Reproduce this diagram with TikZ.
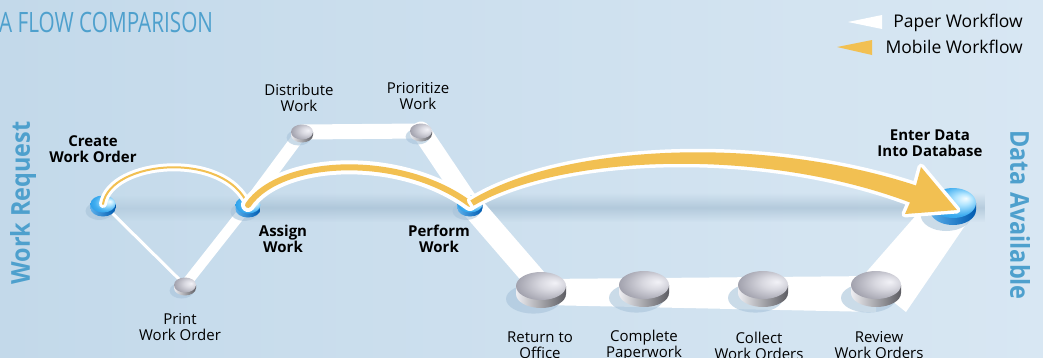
\documentclass[tikz,border=0pt]{standalone}
\usepackage{fontspec}
\setmainfont{Open Sans}
\usetikzlibrary{fadings,calc}
\definecolor{bgL}{RGB}{195,217,234}
\definecolor{bgR}{RGB}{216,231,243}
\definecolor{ttl}{RGB}{78,160,205}
\definecolor{mob}{RGB}{242,192,82}
\definecolor{bandc}{RGB}{150,178,200}
\definecolor{shad}{RGB}{168,195,218}
\definecolor{blueL}{RGB}{90,175,235}
\definecolor{blueR}{RGB}{0,90,175}
\definecolor{grayL}{RGB}{238,238,242}
\definecolor{grayR}{RGB}{92,92,98}
\pgfdeclareradialshading{bluetop}{\pgfpoint{14bp}{8bp}}{rgb(0bp)=(0.96,0.99,1); rgb(9bp)=(0.7,0.9,1); rgb(24bp)=(0.25,0.68,0.94); rgb(50bp)=(0.02,0.5,0.85)}
\pgfdeclareradialshading{graytop}{\pgfpoint{14bp}{6bp}}{rgb(0bp)=(0.95,0.95,0.97); rgb(12bp)=(0.85,0.85,0.88); rgb(36bp)=(0.58,0.58,0.63); rgb(55bp)=(0.45,0.45,0.5)}
\tikzfading[name=bandfade, top color=transparent!100, bottom color=transparent!100, middle color=transparent!0]
\newcommand\mkdisc[5]{%
  \begin{scope}[shift={(#1)}]
    \fill[shad, opacity=0.6] (-0.3*#2, #4+0.35*#3) ellipse[x radius=1.1*#2, y radius=1.05*#3];
    \path[left color=#5L, right color=#5R] (-#2,0) -- (-#2,#4) arc[start angle=180, end angle=0, x radius=#2, y radius=#3] -- (#2,0) -- cycle;
    \path[shading=#5top] (0,0) ellipse[x radius=#2, y radius=#3];
  \end{scope}}
\begin{document}
\begin{tikzpicture}[x=1pt,y=-1pt,
  paper/.style={draw=white, line cap=round, line join=round},
  lbl/.style={font=\fontsize{15}{16}\selectfont, align=center, inner sep=0pt, text=black},
  blbl/.style={font=\bfseries\fontsize{15}{16}\selectfont, align=center, inner sep=0pt, text=black},
  sidelbl/.style={font=\bfseries\fontsize{26}{28}\selectfont, text=ttl, inner sep=0pt},
  legend/.style={font=\fontsize{17.5}{18}\selectfont, inner sep=0pt, anchor=base east}]
\useasboundingbox (0,0) rectangle (1043,357);
\clip (0,0) rectangle (1043,357);
\fill[left color=bgL, right color=bgR] (0,0) rectangle (1043,357);
\fill[bandc, path fading=bandfade, opacity=0.3] (95,195) rectangle (250,221);
\fill[bandc, path fading=bandfade, opacity=0.5] (250,193) rectangle (985,222);
% coordinates of the discs
\coordinate (cwo) at (103,204);
\coordinate (asg) at (248,205);
\coordinate (pwo) at (185,285);
\coordinate (dst) at (302,132);
\coordinate (pri) at (421,131);
\coordinate (perf) at (470,204);
\coordinate (ret) at (541,286);
\coordinate (cmp) at (644,285);
\coordinate (col) at (763,285);
\coordinate (rev) at (876,285);
\coordinate (ent) at (953,203);
% paper workflow
\draw[paper, line width=3] (cwo) -- (pwo);
\draw[paper, line width=10] (pwo) -- (asg);
\draw[paper, line width=12] (asg) -- (dst);
\draw[paper, line width=15] (dst) -- (pri);
\draw[paper, line width=19] (pri) -- (perf);
\draw[paper, line width=23] (perf) -- (ret);
\fill[white] ($(ret)+(0,-7)$) -- ($(rev)+(0,-9)$) -- ($(rev)+(0,27)$) -- ($(ret)+(0,19)$) -- cycle;
\fill[white] ($(rev)+(-14,-8)$) -- ($(ent)+(-28,2)$) -- ($(ent)+(22,8)$) -- ($(rev)+(30,27)$) -- cycle;
% discs
\mkdisc{cwo}{12.5}{8.5}{4}{blue}
\mkdisc{asg}{12.5}{8.5}{4}{blue}
\mkdisc{perf}{12.5}{8.5}{4}{blue}
\mkdisc{pwo}{11}{7.5}{3}{gray}
\mkdisc{dst}{11}{7.5}{3}{gray}
\mkdisc{pri}{11}{7.5}{3}{gray}
\mkdisc{ret}{25}{14}{8}{gray}
\mkdisc{cmp}{25}{14}{8}{gray}
\mkdisc{col}{25}{14}{8}{gray}
\mkdisc{rev}{25}{14}{8}{gray}
\mkdisc{ent}{23}{15}{7}{blue}
% mobile workflow
\draw[white, line width=8, line cap=round] (cwo) .. controls (110,160) and (225,150) .. (asg);
\draw[mob, line width=2, line cap=round] (cwo) .. controls (110,160) and (225,150) .. (asg);
\draw[white, line width=14, line cap=round] (asg) .. controls (280,158) and (400,152) .. (perf);
\draw[mob, line width=6, line cap=round] (asg) .. controls (280,158) and (400,152) .. (perf);
\def\bigarrow{($(perf)+(0.4,-3.6)$) .. controls (560,145) and (760,134) .. ($(ent)+(-37,-17.5)$) -- ($(ent)+(-32,-36)$) -- ($(ent)+(4,7)$) -- ($(ent)+(-48,11)$) -- ($(ent)+(-43,-0.5)$) .. controls (760,146) and (560,155) .. ($(perf)+(3.6,1.6)$) -- cycle}
\path[draw=white, line width=7, line join=round] \bigarrow;
\fill[mob] \bigarrow;
% legend
\fill[white] (848,22) -- (882,15) -- (882,29) -- cycle;
\fill[mob] (837,47) -- (872,40) -- (872,55) -- cycle;
\node[legend] (lp) at (1023,27) {Paper Workflow};
\node[legend] (lm) at (1023,53) {Mobile Workflow};
% title and side labels
\node[anchor=base west, inner sep=0pt, text=ttl, font=\fontsize{28}{30}\selectfont] (title) at (-1,32) {\scalebox{0.74}[1]{A FLOW COMPARISON}};
\node[sidelbl, rotate=90] (wr) at (23,203) {\scalebox{0.9}[1]{Work Request}};
\node[sidelbl, rotate=-90] (da) at (1020,215) {\scalebox{0.9}[1]{Data Available}};
% labels
\node[blbl] (tcwo) at (93,149) {Create\\Work Order};
\node[blbl] (tasg) at (283,238.5) {Assign\\Work};
\node[blbl] (tperf) at (439,239) {Perform\\Work};
\node[blbl] (tent) at (930,143.5) {Enter Data\\Into Database};
\node[lbl] (tpwo) at (180,327.5) {Print\\Work Order};
\node[lbl] (tdst) at (299,98) {Distribute\\Work};
\node[lbl] (tpri) at (418,96.5) {Prioritize\\Work};
\node[lbl] (tret) at (540,345.5) {Return to\\Office};
\node[lbl] (tcmp) at (644,345.5) {Complete\\Paperwork};
\node[lbl] (tcol) at (759,345.5) {Collect\\Work Orders};
\node[lbl] (trev) at (879,345.5) {Review\\Work Orders};
\end{tikzpicture}
\end{document}
